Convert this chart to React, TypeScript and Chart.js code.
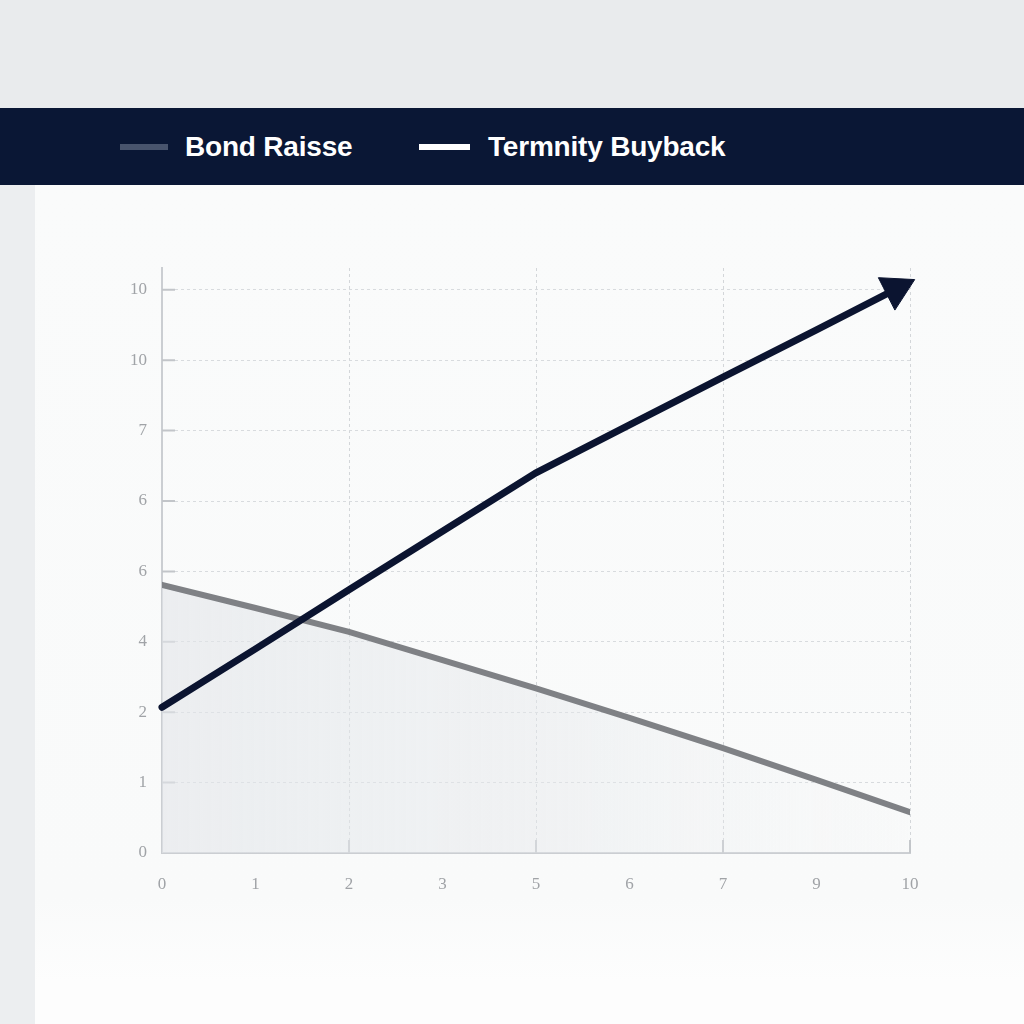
import { useEffect, useRef } from "react";
import { Chart, registerables } from "chart.js";

Chart.register(...registerables);

const seriesNames = ["Bond Raisse", "Termnity Buyback"];
const seriesColors = ["#7f8185", "#0b1430"];
const legendSwatchColors = ["#48546d", "#ffffff"];

const xTickLabels = ["0", "1", "2", "3", "5", "6", "7", "9", "10"];
const yTickLabels = ["0", "1", "2", "4", "6", "6", "7", "10", "10"];

const bondX = [0, 1, 2, 3, 4, 5, 6, 7, 8];
const bondY = [3.81, 3.48, 3.14, 2.74, 2.34, 1.92, 1.49, 1.04, 0.58];

const buybackX = [0, 1, 2, 3, 4, 5, 6, 7, 7.85];
const buybackY = [2.07, 2.9, 3.74, 4.57, 5.4, 6.08, 6.76, 7.43, 8.01];

// short inward tick marks on both axes
const innerTicks = {
  id: "innerTicks",
  beforeDatasetsDraw(chart: any) {
    const { ctx, chartArea, scales } = chart;
    ctx.save();
    ctx.strokeStyle = "#c2c5c9";
    ctx.lineWidth = 2;
    ctx.beginPath();
    scales.y.ticks.forEach((t: any) => {
      if (t.value === 0) return;
      const py = scales.y.getPixelForValue(t.value);
      ctx.moveTo(chartArea.left, py);
      ctx.lineTo(chartArea.left + 13, py);
    });
    scales.x.ticks.forEach((t: any) => {
      if (t.value === 0 || t.value % 2 !== 0) return;
      const px = scales.x.getPixelForValue(t.value);
      ctx.moveTo(px, chartArea.bottom);
      ctx.lineTo(px, chartArea.bottom - 13);
    });
    ctx.stroke();
    ctx.restore();
  },
};

function LineChart() {
  const chartRef = useRef<HTMLCanvasElement>(null);

  useEffect(() => {
    if (!chartRef.current) return;
    const chart = new Chart(chartRef.current, {
      type: "line",
      data: {
        datasets: [
          {
            label: seriesNames[0],
            data: bondX.map((x, i) => ({ x, y: bondY[i] })),
            borderColor: seriesColors[0],
            borderWidth: 6,
            borderCapStyle: "round",
            pointRadius: 0,
            tension: 0,
            order: 1,
            fill: "origin",
            backgroundColor: (c: any) => {
              const { ctx, chartArea } = c.chart;
              if (!chartArea) return "rgba(226,229,233,0.5)";
              const g = ctx.createLinearGradient(chartArea.left, 0, chartArea.right, 0);
              g.addColorStop(0, "rgba(226,229,233,0.6)");
              g.addColorStop(0.55, "rgba(230,233,236,0.45)");
              g.addColorStop(1, "rgba(240,242,244,0.05)");
              return g;
            },
          },
          {
            label: seriesNames[1],
            data: buybackX.map((x, i) => ({ x, y: buybackY[i] })),
            borderColor: seriesColors[1],
            borderWidth: 7,
            borderCapStyle: "round",
            tension: 0,
            order: 0,
            fill: false,
            clip: false,
            pointStyle: "triangle",
            rotation: 63,
            pointRadius: (c: any) => (c.dataIndex === buybackX.length - 1 ? 21 : 0),
            pointBackgroundColor: seriesColors[1],
            pointBorderColor: seriesColors[1],
            pointBorderWidth: 1,
          },
        ],
      },
      options: {
        responsive: true,
        maintainAspectRatio: false,
        animation: false,
        layout: { padding: { top: 83, right: 114, left: 0, bottom: 0 } },
        plugins: {
          legend: { display: false },
          tooltip: { enabled: false },
        },
        scales: {
          x: {
            type: "linear",
            min: 0,
            max: 8,
            afterFit: (scale: any) => {
              scale.height = 171;
            },
            ticks: {
              stepSize: 1,
              padding: 21,
              color: "#a0a3a7",
              font: { family: "'Liberation Serif', serif", size: 17 },
              callback: (v: any) => xTickLabels[v] ?? "",
            },
            grid: {
              drawTicks: false,
              lineWidth: 1,
              color: (c: any) =>
                c.tick && c.tick.value !== 0 && c.tick.value % 2 === 0 ? "#d3d6d9" : "rgba(0,0,0,0)",
            },
            border: { display: true, color: "#cbced2", width: 2, dash: [3, 3] },
          },
          y: {
            type: "linear",
            min: 0,
            max: 8.31,
            afterFit: (scale: any) => {
              scale.width = 127;
            },
            afterBuildTicks: (scale: any) => {
              scale.ticks = scale.ticks.filter((t: any) => Number.isInteger(t.value));
            },
            ticks: {
              stepSize: 1,
              padding: 15,
              color: "#a0a3a7",
              font: { family: "'Liberation Serif', serif", size: 17 },
              callback: (v: any) => yTickLabels[v] ?? "",
            },
            grid: {
              drawTicks: false,
              lineWidth: 1,
              color: "#d8dbde",
            },
            border: { display: true, color: "#cbced2", width: 2, dash: [3, 3] },
          },
        },
      },
      plugins: [innerTicks],
    } as any);
    return () => chart.destroy();
  }, []);

  return (
    <div style={{ position: "absolute", left: 35, top: 185, width: 989, height: 839 }}>
      <canvas ref={chartRef} />
    </div>
  );
}

export default function App() {
  return (
    <div
      style={{
        position: "fixed",
        left: 0,
        top: 0,
        width: 1024,
        height: 1024,
        background: "#e9ebed",
        overflow: "hidden",
      }}
    >
      <div style={{ position: "absolute", left: 0, top: 185, width: 35, height: 839, background: "#eceef0" }} />
      <div
        style={{
          position: "absolute",
          left: 35,
          top: 185,
          width: 989,
          height: 839,
          background: "linear-gradient(180deg, #fafbfb 0%, #f9fafa 85%, #fdfdfd 95%)",
        }}
      />
      <div
        style={{
          position: "absolute",
          left: 0,
          top: 108,
          width: 1024,
          height: 77,
          background: "#0a1735",
        }}
      >
        {seriesNames.map((name, i) => (
          <div
            key={name}
            style={{
              position: "absolute",
              left: i === 0 ? 120 : 419,
              top: 0,
              height: 77,
              display: "flex",
              alignItems: "center",
            }}
          >
            <span
              style={{
                display: "inline-block",
                width: i === 0 ? 48 : 51,
                height: 6,
                background: legendSwatchColors[i],
                marginRight: i === 0 ? 17 : 18,
              }}
            />
            <span
              style={{
                color: "#ffffff",
                fontFamily: "'Liberation Sans', Arial, sans-serif",
                fontWeight: 700,
                fontSize: 28,
                letterSpacing: -0.2,
              }}
            >
              {name}
            </span>
          </div>
        ))}
      </div>
      <LineChart />
    </div>
  );
}
